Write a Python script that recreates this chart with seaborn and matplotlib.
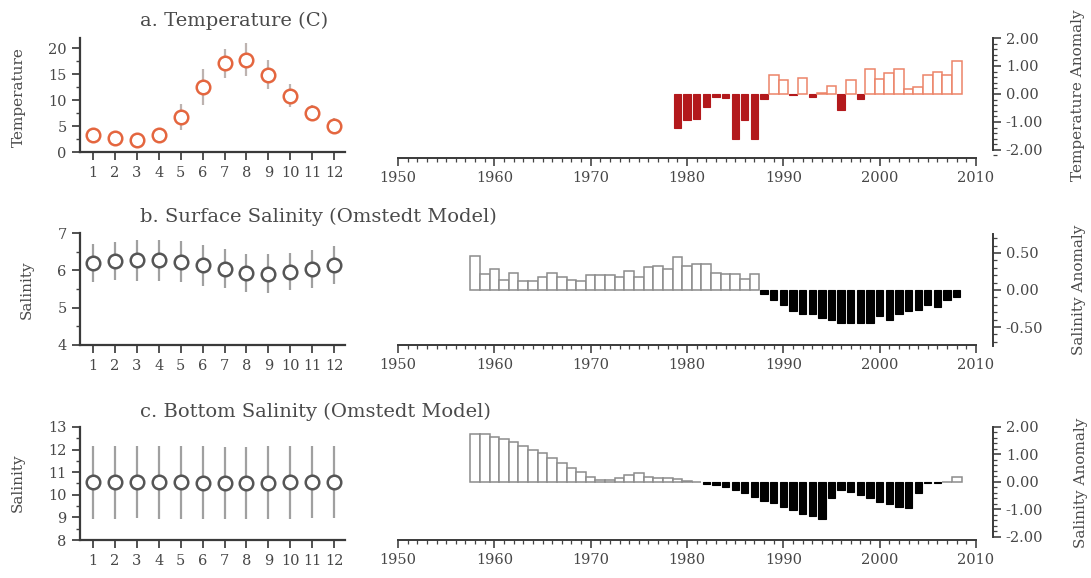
import numpy as np
import pandas as pd
import matplotlib
matplotlib.use("Agg")
import matplotlib.pyplot as plt
import seaborn as sns
from matplotlib.ticker import MultipleLocator, FormatStrFormatter

# ---------------- data ----------------
months = list(range(1, 13))
temp_mean = [3.3, 2.7, 2.4, 3.2, 6.7, 12.6, 17.1, 17.8, 14.9, 10.9, 7.5, 5.1]
temp_sd = [1.3, 1.2, 1.2, 1.5, 2.5, 3.5, 2.8, 3.2, 2.8, 2.2, 1.6, 1.4]
surf_mean = [6.20, 6.25, 6.27, 6.27, 6.23, 6.14, 6.04, 5.93, 5.91, 5.96, 6.04, 6.14]
surf_sd = [0.50, 0.50, 0.55, 0.55, 0.55, 0.55, 0.52, 0.52, 0.52, 0.50, 0.50, 0.50]
bot_mean = [10.55, 10.55, 10.56, 10.55, 10.55, 10.54, 10.53, 10.53, 10.54, 10.55, 10.57, 10.58]
bot_sd = [1.6] * 12

temp_years = list(range(1979, 2009))
temp_anom = [-1.23, -0.93, -0.90, -0.45, -0.10, -0.15, -1.62, -0.93, -1.62, -0.18,
             0.68, 0.50, -0.04, 0.58, -0.10, 0.05, 0.29, -0.57, 0.50, -0.19,
             0.88, 0.52, 0.76, 0.89, 0.17, 0.24, 0.68, 0.80, 0.68, 1.19]

sal_years = list(range(1958, 2009))
surf_anom = [0.46, 0.22, 0.28, 0.14, 0.23, 0.12, 0.12, 0.17, 0.23, 0.17,
             0.14, 0.12, 0.20, 0.20, 0.20, 0.18, 0.26, 0.18, 0.31, 0.33,
             0.28, 0.45, 0.32, 0.35, 0.35, 0.23, 0.21, 0.21, 0.15, 0.22,
             -0.06, -0.14, -0.20, -0.28, -0.32, -0.33, -0.38, -0.41, -0.45, -0.44,
             -0.44, -0.45, -0.35, -0.40, -0.32, -0.28, -0.27, -0.20, -0.23, -0.14,
             -0.09]
bot_anom = [1.73, 1.73, 1.64, 1.57, 1.45, 1.30, 1.18, 1.04, 0.88, 0.70,
            0.52, 0.36, 0.19, 0.06, 0.06, 0.14, 0.24, 0.31, 0.19, 0.16,
            0.13, 0.10, 0.04, 0.01, -0.08, -0.12, -0.20, -0.28, -0.40, -0.54,
            -0.69, -0.78, -0.90, -1.03, -1.15, -1.24, -1.33, -0.60, -0.28, -0.36,
            -0.48, -0.60, -0.72, -0.81, -0.90, -0.93, -0.40, -0.03, -0.04, 0.00,
            0.18]

titles = ["a. Temperature (C)", "b. Surface Salinity (Omstedt Model)",
          "c. Bottom Salinity (Omstedt Model)"]
left_ylabels = ["Temperature", "Salinity", "Salinity"]
right_ylabels = ["Temperature Anomaly", "Salinity Anomaly", "Salinity Anomaly"]

# ---------------- style ----------------
sns.set_style("ticks")
plt.rcParams["font.family"] = ["DejaVu Serif"]
TXT = "#474747"
plt.rcParams["text.color"] = TXT
plt.rcParams["xtick.color"] = "#444444"
plt.rcParams["ytick.color"] = "#444444"
plt.rcParams["xtick.labelcolor"] = TXT
plt.rcParams["ytick.labelcolor"] = TXT

W, H = 1091, 578
fig = plt.figure(figsize=(W / 100, H / 100), dpi=100)


def fpos(x0, x1, ytop, ybot):
    return [x0 / W, 1 - ybot / H, (x1 - x0) / W, (ybot - ytop) / H]


left_geo = [(38, 152), (233, 345), (427, 540)]
right_geo = [(38, 158), (233, 345), (427, 540)]
left_ylims = [(0, 22), (4, 7), (8, 13)]
left_major = [5, 1, 1]
left_minor = [2.5, 0.5, 0.5]
right_ylims = [(-2.29, 2.0), (-0.743, 0.77), (-2.11, 2.0)]
right_bounds = [(-2, 2), (-0.75, 0.75), (-2, 2)]
right_major = [1, 0.5, 1]
right_minor = [0.2, 0.1, 0.2]

means = [temp_mean, surf_mean, bot_mean]
sds = [temp_sd, surf_sd, bot_sd]
mcolors = ["#e4663f", "#555555", "#555555"]
ecolors = ["#bdb3b0", "#a0a0a0", "#a0a0a0"]

series = [(temp_years, temp_anom), (sal_years, surf_anom), (sal_years, bot_anom)]
neg_face = ["#b3191c", "#000000", "#000000"]
pos_edge = ["#ec8468", "#8c8c8c", "#8c8c8c"]

title_base = [26, 222, 417]
left_lab_xy = [(19, 97), (27, 290), (18, 483)]
right_lab_xy = [(1078, 95), (1079, 290), (1081, 483)]

for i in range(3):
    # ---------- left: monthly climatology ----------
    ytop, ybot = left_geo[i]
    axl = fig.add_axes(fpos(80, 345, ytop, ybot))
    axl.errorbar(months, means[i], yerr=sds[i], fmt="none", ecolor=ecolors[i],
                 elinewidth=1.6, zorder=2)
    sns.scatterplot(x=months, y=means[i], ax=axl, s=95, marker="o",
                    color="white", edgecolor=mcolors[i], linewidth=1.8, zorder=3)
    axl.set_xlim(0.4, 12.5)
    axl.set_ylim(*left_ylims[i])
    axl.set_xticks(months)
    axl.yaxis.set_major_locator(MultipleLocator(left_major[i]))
    axl.yaxis.set_minor_locator(MultipleLocator(left_minor[i]))
    for s in ["top", "right"]:
        axl.spines[s].set_visible(False)
    for s in ["left", "bottom"]:
        axl.spines[s].set_color("#3a3a3a")
        axl.spines[s].set_linewidth(1.6)
    axl.tick_params(axis="both", which="major", labelsize=10.5, length=6, width=1.3)
    axl.tick_params(axis="x", which="major", pad=4)
    axl.tick_params(axis="y", which="minor", length=3, width=1)
    axl.set_xlabel("")
    axl.set_ylabel("")

    # ---------- right: yearly anomaly bars ----------
    ytop, ybot = right_geo[i]
    axr = fig.add_axes(fpos(398, 976, ytop, ybot))
    yrs, vals = series[i]
    df = pd.DataFrame({"year": yrs, "anom": vals})
    sns.barplot(data=df, x="year", y="anom", native_scale=True, width=1.0,
                errorbar=None, color="white", linewidth=1.0, ax=axr)
    for p, v in zip(axr.patches, vals):
        if v < 0:
            w = p.get_width()
            p.set_x(p.get_x() + 0.12 * w)
            p.set_width(0.76 * w)
            p.set_facecolor(neg_face[i])
            p.set_edgecolor(neg_face[i])
            p.set_linewidth(0.8)
        else:
            p.set_facecolor("white")
            p.set_edgecolor(pos_edge[i])
            p.set_linewidth(1.1)
    axr.set_xlim(1950, 2010)
    axr.set_ylim(*right_ylims[i])
    axr.xaxis.set_major_locator(MultipleLocator(10))
    axr.xaxis.set_minor_locator(MultipleLocator(1))
    axr.xaxis.set_major_formatter(FormatStrFormatter("%d"))
    axr.yaxis.tick_right()
    axr.yaxis.set_major_locator(MultipleLocator(right_major[i]))
    axr.yaxis.set_minor_locator(MultipleLocator(right_minor[i]))
    axr.yaxis.set_major_formatter(FormatStrFormatter("%.2f"))
    axr.spines["top"].set_visible(False)
    axr.spines["left"].set_visible(False)
    axr.spines["right"].set_position(("outward", 12))
    axr.spines["right"].set_bounds(*right_bounds[i])
    for s in ["right", "bottom"]:
        axr.spines[s].set_color("#3a3a3a")
        axr.spines[s].set_linewidth(1.4)
    axr.tick_params(axis="both", which="major", labelsize=10.5, length=6, width=1.2)
    axr.tick_params(axis="both", which="minor", length=3, width=0.9)
    axr.set_xlabel("")
    axr.set_ylabel("")

    # ---------- texts ----------
    fig.text(140 / W, 1 - title_base[i] / H, titles[i], fontsize=14,
             va="baseline", ha="left", color="#4a4a4a")
    lx, ly = left_lab_xy[i]
    fig.text(lx / W, 1 - ly / H, left_ylabels[i], rotation=90, fontsize=11,
             ha="center", va="center", color="#4a4a4a")
    rx, ry = right_lab_xy[i]
    fig.text(rx / W, 1 - ry / H, right_ylabels[i], rotation=90, fontsize=11,
             ha="center", va="center", color="#4a4a4a")

fig.savefig("out.png", dpi=100)
